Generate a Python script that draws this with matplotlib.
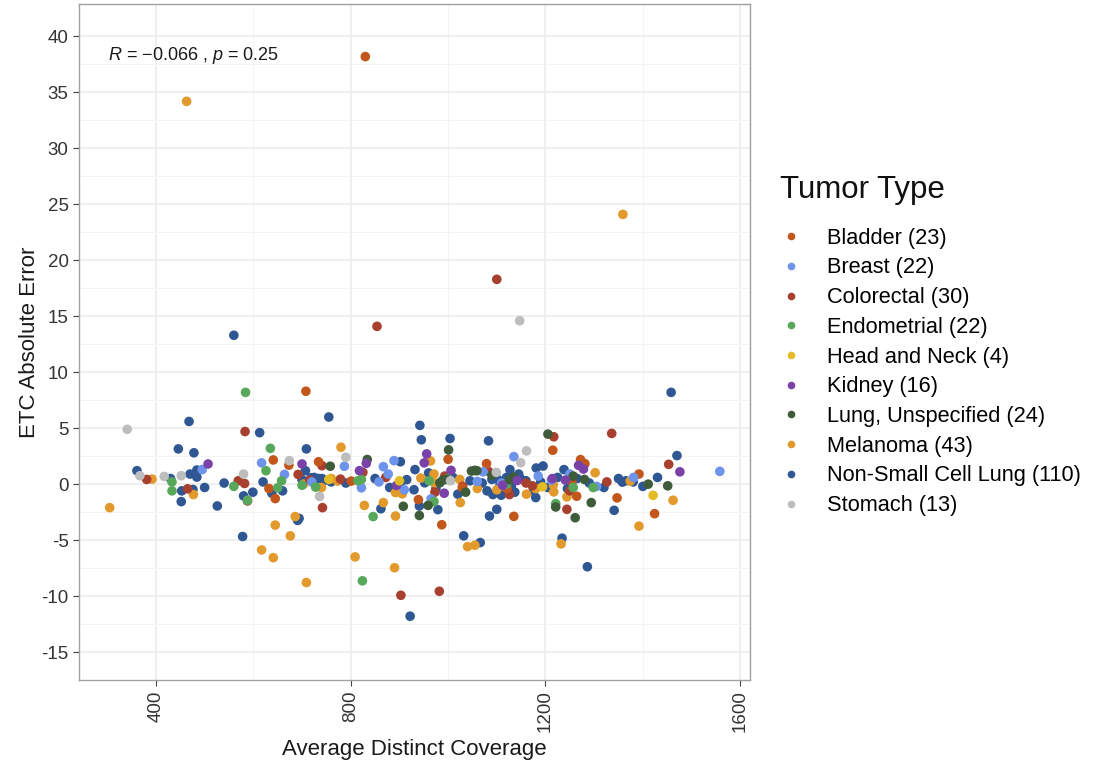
import matplotlib
matplotlib.use("Agg")
import matplotlib.pyplot as plt
from matplotlib.lines import Line2D
import numpy as np

plt.rcParams['font.family'] = ['Liberation Sans', 'DejaVu Sans']
plt.rcParams['mathtext.fontset'] = 'custom'
plt.rcParams['mathtext.rm'] = 'Liberation Sans'
plt.rcParams['mathtext.it'] = 'Liberation Sans:italic'

categories = ["Bladder (23)", "Breast (22)", "Colorectal (30)", "Endometrial (22)",
              "Head and Neck (4)", "Kidney (16)", "Lung, Unspecified (24)",
              "Melanoma (43)", "Non-Small Cell Lung (110)", "Stomach (13)"]
colors = ["#C2561B", "#6E93EA", "#A8402F", "#58A85C", "#E3BC25", "#7A42A8",
          "#3F5C3A", "#E39A2D", "#2F5793", "#BDBDBD"]

bladder_x = [830, 708, 641, 673, 734, 801, 632, 645, 939, 1000, 1079, 1029, 1121, 1215, 1254, 1264, 1272, 1281, 1392, 1347, 1424, 987, 1135]
bladder_y = [38.2, 8.3, 2.16, 1.7, 2.0, 0.27, -0.39, -1.29, -1.38, 2.22, 1.83, -0.3, -0.39, 3.03, 0.2, -1.08, 2.19, 1.83, 0.9, -1.23, -2.64, -3.63, -2.88]

breast_x = [617, 495, 664, 787, 867, 889, 877, 858, 822, 965, 1060, 1072, 1135, 1185, 1212, 1558, 1305, 1381, 910, 1250, 1110, 720]
breast_y = [1.9, 1.3, 0.87, 1.6, 1.56, 2.1, 0.9, 0.2, -0.33, -1.32, 0.24, 1.1, 2.46, 0.72, 0.36, 1.14, -0.2, 0.6, -0.5, 0.9, 0.1, 0.2]

colorectal_x = [1100, 854, 583, 381, 569, 582, 588, 465, 692, 741, 825, 872, 716, 779, 742, 993, 973, 1083, 1126, 1173, 1217, 1244, 1250, 1336, 1453, 1326, 903, 982, 1030, 1160]
colorectal_y = [18.3, 14.1, 4.7, 0.42, 0.3, 0.06, -1.5, -0.42, 0.87, 1.65, 1.05, 0.6, 0.36, 0.45, -2.1, 0.72, -0.72, 1.14, -0.93, -0.15, 4.23, -2.25, -0.6, 4.53, 1.77, 0.2, -9.93, -9.57, -0.2, 0.1]

endometrial_x = [584, 433, 433, 588, 635, 626, 815, 822, 728, 658, 650, 846, 961, 971, 1221, 1257, 1298, 824, 1000, 1120, 700, 560]
endometrial_y = [8.2, 0.2, -0.6, -1.44, 3.2, 1.2, 0.3, 0.42, -0.27, 0.3, -0.33, -2.9, 0.3, -1.56, -1.74, -0.3, -0.3, -8.64, 0.5, 0.0, -0.1, -0.2]

headneck_x = [755, 1194, 1421, 900]
headneck_y = [0.42, -0.24, -1.0, 0.3]

kidney_x = [507, 700, 832, 818, 956, 951, 894, 1006, 992, 1142, 1214, 1241, 1268, 1278, 1476, 1112]
kidney_y = [1.8, 1.8, 1.86, 1.2, 2.7, 1.9, -0.12, 1.23, -0.81, 0.33, 0.5, 0.36, 1.68, 1.35, 1.1, -0.1]

lungu_x = [758, 834, 908, 941, 959, 1205, 1001, 989, 983, 997, 1036, 1048, 1055, 1059, 1126, 1135, 1221, 1257, 1280, 1294, 1261, 1411, 1451, 1090]
lungu_y = [1.6, 2.2, -1.98, -2.8, -1.9, 4.47, 3.06, 0.36, 0.12, 0.42, -0.72, 1.17, 1.23, 1.2, 0.39, 0.63, -2.04, 0.72, 0.42, -1.65, -3.0, 0.0, -0.15, 0.8]

melanoma_x = [463, 1359, 392, 477, 305, 780, 703, 740, 686, 773, 828, 867, 892, 892, 906, 944, 964, 971, 973, 1024, 1025, 1060, 1161, 1216, 1217, 1244, 1302, 1374, 1462, 645, 676, 617, 641, 709, 809, 890, 1040, 1055, 1232, 1392, 1100, 1180, 760]
melanoma_y = [34.2, 24.1, 0.45, -0.93, -2.1, 3.3, 0.0, -0.3, -2.9, 0.27, -1.9, -1.65, -2.85, -0.75, -0.87, 0.54, 2.07, 0.9, 0.09, 0.42, -1.65, -0.39, -0.9, -0.06, -0.69, -1.14, 1.02, 0.27, -1.44, -3.66, -4.62, -5.88, -6.57, -8.79, -6.5, -7.47, -5.58, -5.46, -5.34, -3.75, -0.5, -0.4, 0.5]

nsclc_x = [560, 468, 613, 446, 478, 361, 484, 484, 453, 476, 452, 526, 599, 580, 755, 942, 945, 709, 707, 719, 734, 741, 638, 694, 862, 902, 932, 952, 901, 941, 1004, 1083, 979, 1127, 1090, 1102, 1149, 1106, 1115, 1092, 1109, 1137, 1181, 1195, 1238, 1085, 1100, 1458, 1470, 1358, 1365, 1341, 691, 578, 922, 1032, 1066, 1234, 1286,
           700, 725, 745, 760, 790, 850, 880, 915, 930, 960, 975, 1010, 1020, 1045, 1070, 1080, 1095, 1120, 1130, 1145, 1160, 1175, 1190, 1205, 1225, 1245, 1265, 1290, 1320, 1350, 1380, 1400, 1430, 620, 660, 540, 500, 470, 430, 1180]
nsclc_y = [13.3, 5.6, 4.6, 3.15, 2.8, 1.2, 1.26, 0.63, -0.6, -0.48, -1.56, -1.95, -0.72, -1.05, 6.0, 5.25, 3.96, 3.15, 1.2, 0.57, 0.5, 0.5, -0.81, -3.06, -2.2, 2.0, 1.3, 0.12, 0.0, -1.95, 4.08, 3.87, -2.28, 1.3, 0.42, 0.42, 0.48, -0.2, -0.15, -0.93, -0.99, -0.72, 1.44, 1.62, 1.3, -2.85, -2.25, 8.2, 2.55, 0.18, 0.3, -2.34, -3.24, -4.68, -11.8, -4.62, -5.22, -4.83, -7.38,
           0.4, 0.6, 0.3, 0.2, 0.1, 0.5, -0.3, 0.4, -0.5, 1.0, -0.4, 0.6, -0.9, 0.3, 0.1, -0.6, 0.9, 0.6, -0.2, 0.9, 0.3, -0.6, 0.2, -0.3, 0.6, -0.4, 0.5, 0.1, -0.3, 0.5, 0.2, -0.2, 0.6, 0.2, -0.6, 0.1, -0.3, 0.9, 0.5, -1.2]

stomach_x = [341, 367, 417, 452, 580, 674, 790, 736, 1161, 1149, 1099, 1147, 1005]
stomach_y = [4.9, 0.75, 0.69, 0.75, 0.9, 2.1, 2.4, -1.1, 2.97, 1.92, 1.05, 14.6, 0.3]

series = [(bladder_x, bladder_y), (breast_x, breast_y), (colorectal_x, colorectal_y),
          (endometrial_x, endometrial_y), (headneck_x, headneck_y), (kidney_x, kidney_y),
          (lungu_x, lungu_y), (melanoma_x, melanoma_y), (nsclc_x, nsclc_y), (stomach_x, stomach_y)]

W, H = 1117, 764
fig = plt.figure(figsize=(W / 100, H / 100), dpi=100)
ax = fig.add_axes([79 / W, 1 - 680 / H, (750 - 79) / W, (680 - 4) / H])

draw_order = [8, 7, 2, 0, 1, 3, 6, 5, 9, 4]
for i in draw_order:
    xs, ys = series[i]
    ax.scatter(xs, ys, s=48, color=colors[i], edgecolors='none', zorder=3)

ax.set_xlim(242, 1620)
ax.set_ylim(-17.5, 42.9)
ax.set_xticks([400, 800, 1200, 1600])
ax.set_xticks([600, 1000, 1400], minor=True)
ax.set_yticks(np.arange(-15, 41, 5))
ax.set_yticks(np.arange(-12.5, 41, 5), minor=True)
ax.set_yticklabels([str(v) for v in range(-15, 41, 5)])
ax.grid(which='major', color='#EBEBEB', linewidth=1.1, zorder=0)
ax.grid(which='minor', color='#F3F3F3', linewidth=0.6, zorder=0)
ax.set_axisbelow(True)
for sp in ax.spines.values():
    sp.set_color('#A0A0A0')
    sp.set_linewidth(1.0)
ax.tick_params(axis='both', which='major', length=4, color='#444444', labelsize=13.5, labelcolor='#333333')
ax.tick_params(axis='both', which='minor', length=0)
plt.setp(ax.get_xticklabels(), rotation=90, va='top', ha='center')
ax.set_xlabel("Average Distinct Coverage", fontsize=16, color='#1a1a1a', labelpad=5)
ax.set_ylabel("ETC Absolute Error", fontsize=16, color='#1a1a1a', labelpad=1)

ax.text(108 / W, 1 - 55 / H, r"$\mathit{R}$ = −0.066 , $\mathit{p}$ = 0.25", transform=fig.transFigure,
        fontsize=13, color='#1a1a1a', va='center', ha='left')

fig.text(780 / W, 1 - 190 / H, "Tumor Type", fontsize=22.5, color='#111111', va='center', ha='left')

handles = [Line2D([0], [0], marker='o', linestyle='none', markersize=5.5,
                  markerfacecolor=c, markeredgecolor='none') for c in colors]
leg = fig.legend(handles, categories, loc='upper left', bbox_to_anchor=(760 / W, 1 - 219 / H),
                 frameon=False, fontsize=15.7, handlelength=2.0,
                 labelspacing=0.40, handletextpad=0.65, borderaxespad=0)

fig.savefig("out.png", dpi=100)
